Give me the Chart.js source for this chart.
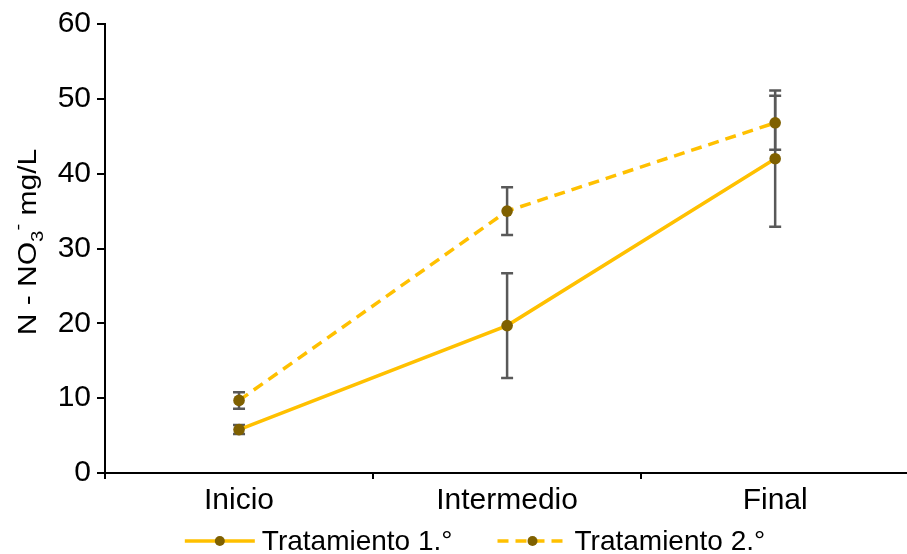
<!DOCTYPE html>
<html>
<head>
<meta charset="utf-8">
<script src="https://cdn.jsdelivr.net/npm/chart.js@4/dist/chart.umd.min.js"></script>
<style>
  html, body { margin: 0; padding: 0; background: #fff; overflow: hidden; }
  #wrap { width: 915px; height: 554px; position: relative; }
</style>
</head>
<body>
<div id="wrap"><canvas id="chart"></canvas></div>
<script>
// Nitrate (N-NO3-) concentration per sampling stage, mean ± standard deviation
const categories = ['Inicio', 'Intermedio', 'Final'];
const seriesNames = ['Tratamiento 1.°', 'Tratamiento 2.°'];
const treatment1 = [5.8, 19.7, 42.0];
const treatment1Err = [0.6, 7.0, 9.1];
const treatment2 = [9.7, 35.0, 46.8];
const treatment2Err = [1.1, 3.2, 3.6];
const yTicks = { min: 0, max: 60, step: 10 };

const FONT = "'Liberation Sans', Arial, sans-serif";
const LINE_COLOR = '#FFC000';
const MARKER_COLOR = '#7F6000';
const ERR_COLOR = '#595959';

// Vertical error bars with caps, drawn under the markers
const errorBars = {
  id: 'errorBars',
  beforeDatasetsDraw(chart) {
    const ctx = chart.ctx;
    const y = chart.scales.y;
    chart.data.datasets.forEach((ds, i) => {
      const meta = chart.getDatasetMeta(i);
      if (!ds.errors) return;
      ctx.save();
      ctx.strokeStyle = ERR_COLOR;
      ctx.lineWidth = 2.5;
      meta.data.forEach((pt, j) => {
        const v = ds.data[j], e = ds.errors[j];
        const top = y.getPixelForValue(v + e);
        const bot = y.getPixelForValue(v - e);
        const x = pt.x;
        ctx.beginPath();
        ctx.moveTo(x, top); ctx.lineTo(x, bot);
        ctx.moveTo(x - 6, top); ctx.lineTo(x + 6, top);
        ctx.moveTo(x - 6, bot); ctx.lineTo(x + 6, bot);
        ctx.stroke();
      });
      ctx.restore();
    });
  }
};

// Rotated y-axis title with subscript and superscript parts
const yTitle = {
  id: 'yTitle',
  afterDraw(chart) {
    const ctx = chart.ctx;
    const parts = [
      { t: 'N - NO', size: 25, shift: 0 },
      { t: '3', size: 17, shift: 7 },
      { t: '-', size: 17, shift: -13 },
      { t: ' mg/L', size: 25, shift: 0 }
    ];
    const stretch = 1.2;
    ctx.save();
    let total = 0;
    parts.forEach(p => { ctx.font = p.size + 'px ' + FONT; p.w = ctx.measureText(p.t).width; total += p.w; });
    ctx.translate(36, 242);
    ctx.rotate(-Math.PI / 2);
    ctx.scale(stretch, 1);
    ctx.fillStyle = '#000';
    ctx.textBaseline = 'alphabetic';
    ctx.textAlign = 'left';
    let u = -total / 2;
    parts.forEach(p => {
      ctx.font = p.size + 'px ' + FONT;
      ctx.fillText(p.t, u, p.shift);
      u += p.w;
    });
    ctx.restore();
  }
};

// Legend row: line sample with a centred marker, then the series name
function legendSample(ctx, x, y, ds) {
  ctx.save();
  ctx.strokeStyle = ds.borderColor;
  ctx.lineWidth = ds.borderWidth;
  ctx.setLineDash(ds.borderDash || []);
  ctx.beginPath();
  ctx.moveTo(x, y); ctx.lineTo(x + 70, y);
  ctx.stroke();
  ctx.setLineDash([]);
  ctx.fillStyle = ds.pointBackgroundColor;
  ctx.beginPath();
  ctx.arc(x + 35, y, 5, 0, Math.PI * 2);
  ctx.fill();
  ctx.restore();
}
const legendRow = {
  id: 'legendRow',
  afterDraw(chart) {
    const ctx = chart.ctx;
    const size = 28;
    ctx.save();
    ctx.font = size + 'px ' + FONT;
    const items = chart.data.datasets.map(ds => ({ ds, w: 70 + 7 + ctx.measureText(ds.label).width }));
    const gap = 45;
    const total = items.reduce((s, it) => s + it.w, 0) + gap * (items.length - 1);
    let x = 475 - total / 2;
    const y = 541;
    items.forEach(it => {
      legendSample(ctx, x, y, it.ds);
      ctx.fillStyle = '#000';
      ctx.textBaseline = 'middle';
      ctx.textAlign = 'left';
      ctx.font = size + 'px ' + FONT;
      ctx.fillText(it.ds.label, x + 77, y + 1);
      x += it.w + gap;
    });
    ctx.restore();
  }
};

new Chart(document.getElementById('chart'), {
  type: 'line',
  data: {
    labels: categories,
    datasets: [
      {
        label: seriesNames[0],
        data: treatment1,
        errors: treatment1Err,
        borderColor: LINE_COLOR,
        borderWidth: 3.5,
        pointRadius: 5.8,
        pointBackgroundColor: MARKER_COLOR,
        pointBorderColor: MARKER_COLOR,
        pointBorderWidth: 0,
        tension: 0
      },
      {
        label: seriesNames[1],
        data: treatment2,
        errors: treatment2Err,
        borderColor: LINE_COLOR,
        borderWidth: 3.5,
        borderDash: [11, 7],
        pointRadius: 5.8,
        pointBackgroundColor: MARKER_COLOR,
        pointBorderColor: MARKER_COLOR,
        pointBorderWidth: 0,
        tension: 0
      }
    ]
  },
  options: {
    responsive: true,
    maintainAspectRatio: false,
    animation: false,
    layout: { padding: { top: 24, right: 4, bottom: 0, left: 0 } },
    plugins: { legend: { display: false }, tooltip: { enabled: false } },
    scales: {
      x: {
        type: 'category',
        offset: true,
        grid: { display: true, offset: true, drawOnChartArea: false, drawTicks: true, tickLength: 6, color: '#000', lineWidth: 2 },
        border: { display: true, color: '#000', width: 2 },
        ticks: { color: '#000', font: { family: FONT, size: 30 }, padding: 4, maxRotation: 0 },
        afterFit(scale) { scale.height = 81; scale.paddingLeft = 0; scale.paddingRight = 0; }
      },
      y: {
        min: yTicks.min,
        max: yTicks.max,
        grid: { display: true, drawOnChartArea: false, drawTicks: true, tickLength: 8, color: '#000', lineWidth: 2 },
        border: { display: true, color: '#000', width: 2 },
        ticks: { stepSize: yTicks.step, color: '#000', font: { family: FONT, size: 30 }, padding: 6 },
        afterFit(scale) { scale.width = 105; scale.paddingTop = 0; scale.paddingBottom = 0; }
      }
    }
  },
  plugins: [errorBars, yTitle, legendRow]
});
</script>
</body>
</html>
